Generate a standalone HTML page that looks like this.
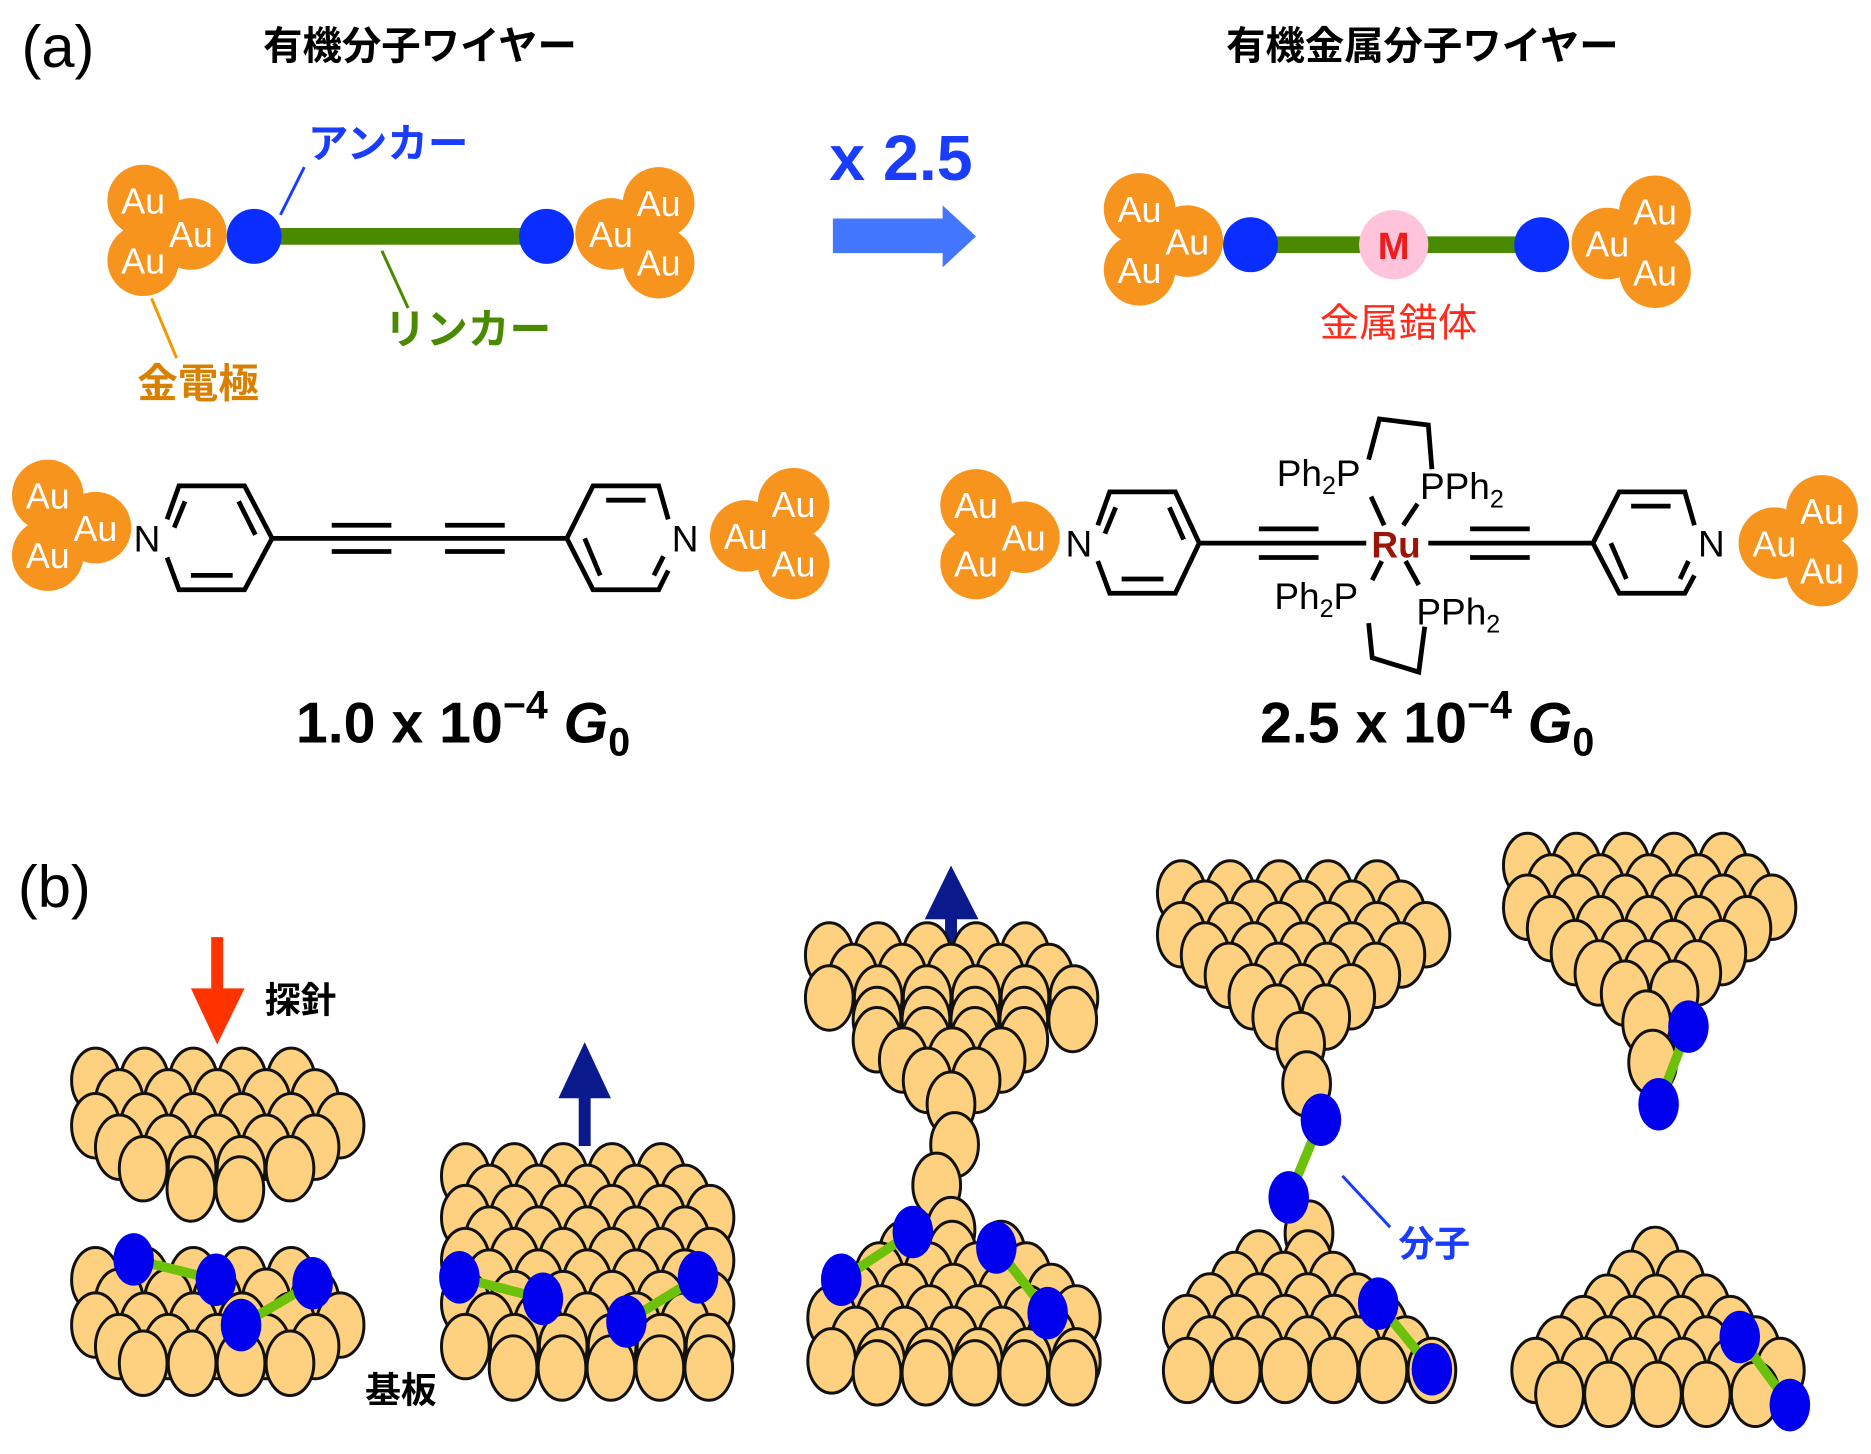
<!DOCTYPE html>
<html><head><meta charset="utf-8"><style>
html,body{margin:0;padding:0;background:#fff;}
svg{display:block;}
.jp{font-family:"Liberation Sans","Noto Sans CJK JP",sans-serif;}
</style></head><body>
<svg id="s" width="1871" height="1454" viewBox="0 0 1568 1218" preserveAspectRatio="none" xmlns="http://www.w3.org/2000/svg">
<rect width="1568" height="1218" fill="#fff"/>
<g class="jp">
<text x="18" y="56" font-size="50" font-family="Liberation Sans,sans-serif">(a)</text>
<text x="352" y="50" font-size="33" font-weight="700" text-anchor="middle">有機分子ワイヤー</text>
<text x="1192" y="50" font-size="33" font-weight="700" text-anchor="middle">有機金属分子ワイヤー</text>
<text x="258" y="132" font-size="34" font-weight="700" fill="#1a3cff">アンカー</text>
<text x="322" y="288" font-size="35" font-weight="700" fill="#4a8a00">リンカー</text>
<text x="115" y="333" font-size="34" font-weight="700" fill="#d98000">金電極</text>
<text x="1172" y="282" font-size="33" fill="#ff2a1a" text-anchor="middle">金属錯体</text>
<text x="695" y="151" font-size="54" font-weight="700" fill="#1a3cff" font-family="Liberation Sans,sans-serif">x 2.5</text>
<text x="15" y="760" font-size="50" font-family="Liberation Sans,sans-serif">(b)</text>
<text x="222" y="848" font-size="30" font-weight="700">探針</text>
<text x="306" y="1175" font-size="30" font-weight="700">基板</text>
<text x="1172" y="1052" font-size="30" font-weight="700" fill="#1a3cff">分子</text>
</g>
<g stroke-width="2.5" fill="none">
<line x1="255" y1="140" x2="235" y2="180" stroke="#1a3cff"/>
<line x1="320" y1="210" x2="342" y2="258" stroke="#4a8a00"/>
<line x1="127" y1="250" x2="148" y2="300" stroke="#f39800"/>
<line x1="1125" y1="985" x2="1165" y2="1028" stroke="#1a3cff"/>
</g>
<polygon points="698,183 790,183 790,172 818,198 790,224 790,212 698,212" fill="#4477ff"/>
<rect x="213" y="191" width="245" height="14" fill="#4a8a00"/>
<rect x="1048" y="198" width="244" height="14" fill="#4a8a00"/>
<g fill="#0a2eff">
<circle cx="213" cy="198" r="23"/><circle cx="458" cy="198" r="23"/>
<circle cx="1048" cy="205" r="23"/><circle cx="1292" cy="205" r="23"/>
</g>
<circle cx="1168" cy="205" r="29" fill="#ffc4dc"/>
<text x="1168" y="217" font-size="32" font-weight="700" fill="#ee1c1c" text-anchor="middle" font-family="Liberation Sans,sans-serif">M</text>
<g id="au"></g>
<g stroke="#000" stroke-width="4" fill="none" stroke-linecap="butt">
<polyline points="140,435 150,407 205,407 228,451 205,494 150,494 140,467"/>
<line x1="155" y1="420" x2="146" y2="442"/><line x1="200" y1="420" x2="214" y2="448"/><line x1="160" y1="482" x2="195" y2="482"/>
<line x1="228" y1="451" x2="475" y2="451"/>
<line x1="278" y1="440" x2="328" y2="440"/><line x1="278" y1="462" x2="328" y2="462"/>
<line x1="373" y1="440" x2="423" y2="440"/><line x1="373" y1="462" x2="423" y2="462"/>
<polyline points="560,435 552,407 497,407 475,451 497,494 552,494 560,478"/>
<line x1="508" y1="419" x2="541" y2="419"/><line x1="490" y1="451" x2="503" y2="482"/><line x1="548" y1="482" x2="556" y2="466"/>
<polyline points="920,440 930,412 985,412 1005,455 985,497 930,497 920,470"/>
<line x1="935" y1="425" x2="926" y2="447"/><line x1="980" y1="425" x2="992" y2="452"/><line x1="940" y1="485" x2="975" y2="485"/>
<line x1="1005" y1="455" x2="1145" y2="455"/>
<line x1="1055" y1="443" x2="1105" y2="443"/><line x1="1055" y1="467" x2="1105" y2="467"/>
<line x1="1197" y1="455" x2="1335" y2="455"/>
<line x1="1232" y1="443" x2="1282" y2="443"/><line x1="1232" y1="467" x2="1282" y2="467"/>
<polyline points="1420,440 1412,412 1357,412 1335,455 1357,497 1412,497 1420,482"/>
<line x1="1367" y1="424" x2="1400" y2="424"/><line x1="1350" y1="455" x2="1363" y2="485"/><line x1="1408" y1="485" x2="1415" y2="470"/>
<line x1="1160" y1="440" x2="1149" y2="416"/><line x1="1176" y1="440" x2="1188" y2="422"/>
<line x1="1158" y1="470" x2="1150" y2="486"/><line x1="1178" y1="470" x2="1189" y2="490"/>
<polyline points="1147,385 1156,351 1197,356 1200,393"/>
<polyline points="1147,522 1150,551 1189,563 1194,525"/>
</g>
<g font-family="Liberation Sans,sans-serif" font-size="31">
<text x="112" y="462">N</text><text x="563" y="462">N</text>
<text x="893" y="466">N</text><text x="1423" y="466">N</text>
<text x="1070" y="407">Ph<tspan font-size="21" dy="7">2</tspan><tspan dy="-7">P</tspan></text>
<text x="1190" y="418">PPh<tspan font-size="21" dy="7">2</tspan></text>
<text x="1068" y="510">Ph<tspan font-size="21" dy="7">2</tspan><tspan dy="-7">P</tspan></text>
<text x="1187" y="523">PPh<tspan font-size="21" dy="7">2</tspan></text>
<text x="1170" y="467" font-weight="700" fill="#9a1408" text-anchor="middle">Ru</text>
</g>
<g font-family="Liberation Sans,sans-serif" font-weight="700" font-size="48">
<text x="248" y="622">1.0 x 10<tspan font-size="33" dy="-20">−4</tspan><tspan dy="20" font-style="italic"> G</tspan><tspan font-size="33" dy="11">0</tspan></text>
<text x="1056" y="622">2.5 x 10<tspan font-size="33" dy="-20">−4</tspan><tspan dy="20" font-style="italic"> G</tspan><tspan font-size="33" dy="11">0</tspan></text>
</g>
<rect x="177" y="785" width="10" height="50" fill="#ff3300"/>
<polygon points="160,828 182,875 205,828" fill="#ff3300"/>
<rect x="485" y="915" width="10" height="45" fill="#0a1a8c"/>
<polygon points="468,920 490,873 512,920" fill="#0a1a8c"/>
<rect x="792" y="765" width="10" height="27" fill="#0a1a8c"/>
<polygon points="775,770 797,725 820,770" fill="#0a1a8c"/>
<g id="cl"></g>
</svg>
<script>
var NS="http://www.w3.org/2000/svg";
function el(p,t,a){var e=document.createElementNS(NS,t);for(var k in a)e.setAttribute(k,a[k]);p.appendChild(e);return e;}
var au=document.getElementById("au");
var AU=[[120,168],[160,196],[120,218],[552,170],[512,196],[552,220],
[955,175],[995,202],[955,226],[1387,177],[1347,204],[1387,228],
[40,415],[80,442],[40,465],[665,422],[625,449],[665,472],
[818,423],[858,450],[818,472],[1527,428],[1487,455],[1527,478]];
AU.forEach(function(p){el(au,"circle",{cx:p[0],cy:p[1],r:30,fill:"#f7941d"});});
AU.forEach(function(p){var t=el(au,"text",{x:p[0],y:p[1]+11,"font-size":30,fill:"#fff","text-anchor":"middle","font-family":"Liberation Sans,sans-serif"});t.textContent="Au";});
var cl=document.getElementById("cl");
function ball(x,y){el(cl,"ellipse",{cx:x,cy:y,rx:20,ry:27,fill:"#fdd17f",stroke:"#111","stroke-width":2.5});}
function rows(R){R.forEach(function(r){for(var i=0;i<r[2];i++)ball(r[1]+i*41,r[0]);});}
function mol(a,b){el(cl,"line",{x1:a[0],y1:a[1],x2:b[0],y2:b[1],stroke:"#6cc10a","stroke-width":8});
[a,b].forEach(function(p){el(cl,"ellipse",{cx:p[0],cy:p[1],rx:17,ry:22,fill:"#0000ee"});});}
rows([[905,80,5],[923,100,5],[943,80,6],[961,100,5],[979,120,4],[996,160,2]]);
rows([[1072,80,5],[1090,100,5],[1110,80,6],[1128,100,5],[1142,120,4]]);
mol([112,1055],[181,1072]);mol([202,1110],[262,1075]);
rows([[985,390,5],[1003,410,5],[1020,390,6],[1038,410,5],[1056,390,6],[1074,410,5],[1092,390,6],[1110,410,5],[1128,390,6],[1146,430,5]]);
mol([385,1070],[455,1088]);mol([525,1107],[585,1070]);
rows([[800,695,5],[818,715,5],[836,695,6],[854,735,5],[871,735,4],[888,757,3],[905,777,2]]);
ball(797,925);ball(800,959);ball(785,993);
rows([[1030,797,1],[1050,757,3],[1068,737,4],[1086,717,5],[1104,697,6],[1122,717,5],[1140,697,6],[1150,735,5]]);
mol([765,1032],[705,1072]);mol([835,1045],[878,1100]);
rows([[748,990,5],[765,1010,5],[783,990,6],[800,1010,5],[817,1030,4],[835,1050,3],[852,1070,2]]);
ball(1090,875);ball(1095,908);ball(1097,1033);
rows([[1058,1055,2],[1076,1035,3],[1094,1014,4],[1112,995,5],[1130,1014,5],[1148,995,6]]);
mol([1107,938],[1080,1003]);mol([1155,1092],[1200,1147]);
rows([[725,1280,5],[743,1300,5],[760,1280,6],[778,1300,5],[798,1320,4],[815,1340,3],[832,1362,2]]);
ball(1380,857);ball(1385,890);
mol([1415,860],[1390,925]);
rows([[1055,1387,1],[1075,1367,2],[1095,1347,3],[1113,1327,4],[1130,1307,5],[1148,1287,6],[1168,1307,5]]);
mol([1458,1120],[1500,1177]);
</script>
</body></html>
